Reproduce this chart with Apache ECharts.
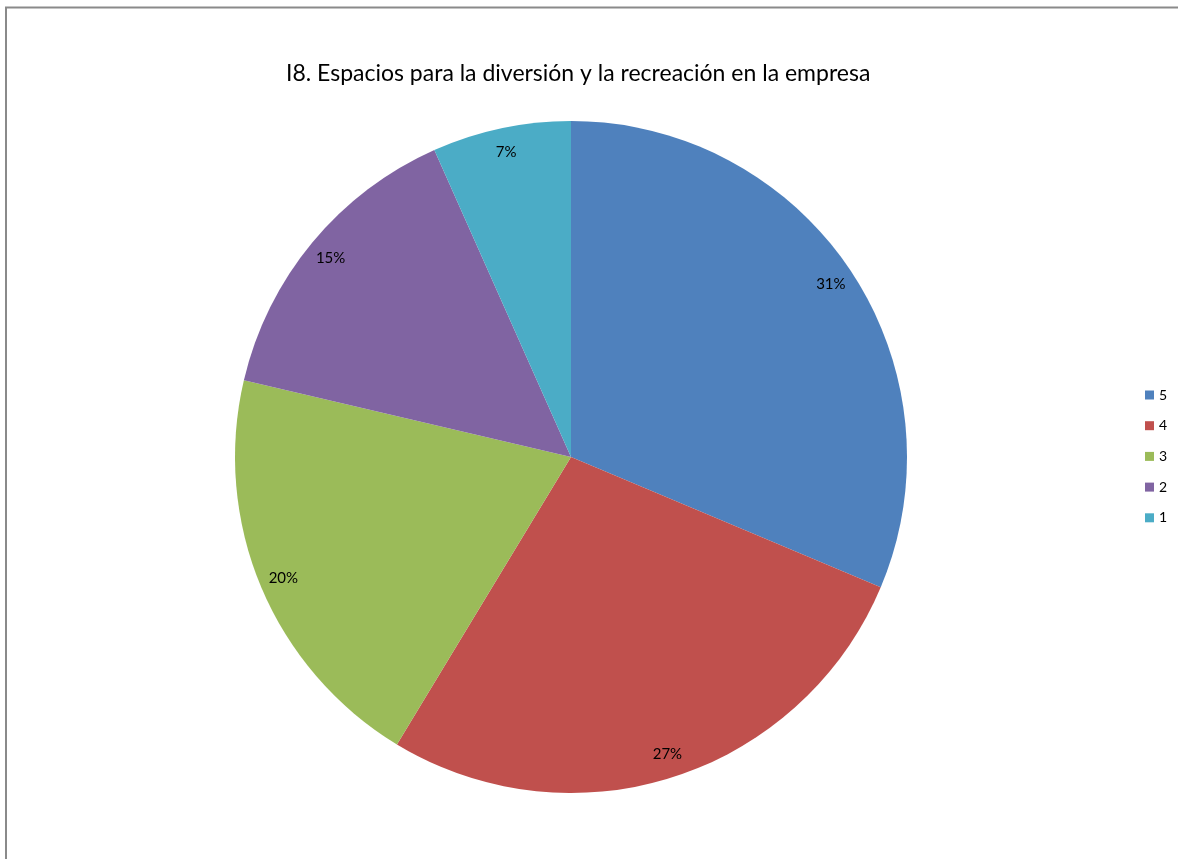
<!DOCTYPE html>
<html>
<head>
<meta charset="utf-8">
<script src="https://cdn.jsdelivr.net/npm/echarts@6/dist/echarts.min.js"></script>
<style>
  html, body { margin: 0; padding: 0; background: #ffffff; }
  #chart { width: 1178px; height: 859px; }
</style>
</head>
<body>
<div id="chart"></div>
<script>
// Survey answers (scale 1–5) for item I8
const titleText = 'I8. Espacios para la diversión y la recreación en la empresa';
const categories = ['5', '4', '3', '2', '1'];
const responses = [47, 41, 30, 22, 10];
const colors = ['#4F81BD', '#C0504D', '#9BBB59', '#8064A2', '#4BACC6'];

const pieData = categories.map((c, i) => ({ name: c, value: responses[i] }));
const center = [571, 457];

const chart = echarts.init(document.getElementById('chart'), null, { renderer: 'canvas' });
chart.setOption({
  backgroundColor: '#ffffff',
  color: colors,
  animation: false,
  title: {
    text: titleText,
    left: 281,
    top: 57,
    textStyle: {
      fontFamily: 'Lato',
      fontSize: 23,
      fontWeight: 'normal',
      color: '#000000'
    }
  },
  legend: {
    orient: 'vertical',
    left: 1140,
    top: 383,
    itemWidth: 9,
    itemHeight: 9,
    itemGap: 16.7,
    icon: 'rect',
    data: categories,
    textStyle: { fontFamily: 'Lato', fontSize: 14, color: '#000000', lineHeight: 14 }
  },
  graphic: [{
    type: 'polyline',
    shape: { points: [[6, 860], [6, 7.5], [1180, 7.5]] },
    style: { stroke: '#8a8a8a', lineWidth: 2, fill: null },
    silent: true
  }],
  series: [
    {
      type: 'pie',
      center: center,
      radius: [0, 336],
      startAngle: 90,
      clockwise: true,
      avoidLabelOverlap: false,
      label: { show: false },
      labelLine: { show: false },
      itemStyle: { borderWidth: 0 },
      emphasis: { disabled: true },
      data: pieData
    },
    {
      // percentage labels drawn near the outer rim
      type: 'pie',
      center: center,
      radius: [282, 336],
      startAngle: 90,
      clockwise: true,
      silent: true,
      avoidLabelOverlap: false,
      itemStyle: { color: 'rgba(0,0,0,0)', borderWidth: 0 },
      label: {
        show: true,
        position: 'inside',
        formatter: p => Math.round(p.percent) + '%',
        fontFamily: 'Lato',
        fontSize: 15,
        color: '#000000'
      },
      labelLine: { show: false },
      emphasis: { disabled: true },
      data: pieData
    }
  ]
});
</script>
</body>
</html>
